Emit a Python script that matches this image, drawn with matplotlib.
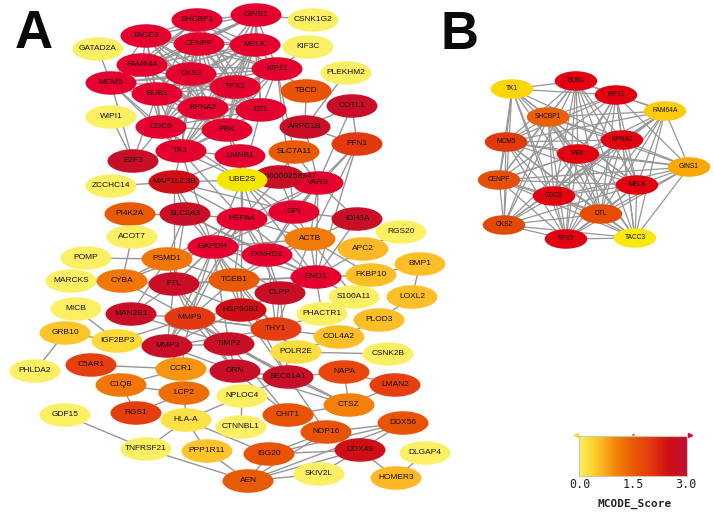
import itertools
import numpy as np
import matplotlib
matplotlib.use("Agg")
import matplotlib.pyplot as plt
from matplotlib.colors import LinearSegmentedColormap, Normalize
from matplotlib.patches import Ellipse

plt.rcParams["font.family"] = ["Liberation Sans", "DejaVu Sans"]

# network A, node centres
a_names = ["GINS1", "SHCBP1", "CSNK1G2", "TACC3", "CENPF", "MELK", "KIF3C", "GATAD2A", "FAM64A", "CKS2",
           "KIF11", "PLEKHM2", "MCM5", "TPX2", "BUB1", "TBCD", "KPNA2", "DTL", "COTL1", "WIPI1",
           "CDC6", "PBK", "ARPC1B", "PFN1", "TK1", "LMNB1", "SLC7A11", "E2F3", "MAP1LC3B", "VARS",
           "ENSG00000258947", "UBE2S", "ZCCHC14", "PI4K2A", "SLC2A3", "HSPA4", "GPI", "IDH3A", "ACOT7", "GAPDH",
           "ACTB", "RGS20", "APC2", "TXNRD1", "POMP", "PSMD1", "BMP1", "FKBP10", "ENO1", "MARCKS",
           "CYBA", "TCEB1", "FTL", "CLPP", "S100A11", "LOXL2", "MICB", "HSP90B1", "MAN2B1", "PHACTR1",
           "MMP9", "PLOD3", "THY1", "GRB10", "COL4A2", "IGF2BP3", "TIMP2", "MMP3", "POLR2E", "CSNK2B",
           "C5AR1", "CCR1", "PHLDA2", "GRN", "NAPA", "SEC61A1", "C1QB", "LMAN2", "LCP2", "NPLOC4",
           "CTSZ", "RGS1", "GDF15", "CHIT1", "HLA-A", "DDX56", "CTNNBL1", "NOP16", "TNFRSF21", "PPP1R11",
           "DDX49", "ISG20", "DLGAP4", "SKIV2L", "HOMER3", "AEN"]
a_x = [256, 197, 313, 146, 199, 255, 308, 98, 142, 191,
       277, 346, 111, 235, 157, 306, 203, 261, 352, 111,
       161, 227, 305, 357, 181, 240, 294, 133, 174, 318,
       279, 242, 111, 130, 185, 242, 294, 357, 132, 213,
       310, 401, 363, 267, 86, 167, 420, 371, 316, 71,
       122, 234, 174, 280, 354, 412, 76, 241, 131, 322,
       190, 379, 276, 65, 339, 117, 229, 167, 296, 388,
       91, 181, 35, 235, 344, 288, 121, 395, 184, 242,
       349, 136, 65, 288, 186, 403, 241, 326, 146, 207,
       360, 269, 425, 319, 396, 248]
a_y = [15, 20, 20, 36, 44, 45, 47, 49, 65, 74,
       69, 73, 83, 87, 94, 91, 108, 110, 106, 117,
       127, 130, 127, 144, 151, 156, 152, 161, 182, 183,
       177, 180, 186, 214, 214, 219, 212, 219, 237, 247,
       239, 232, 249, 255, 258, 259, 264, 275, 277, 281,
       281, 280, 284, 293, 297, 297, 309, 310, 314, 314,
       318, 320, 329, 333, 337, 341, 344, 346, 352, 354,
       365, 369, 371, 371, 372, 377, 385, 385, 393, 396,
       405, 413, 415, 415, 420, 423, 427, 432, 449, 451,
       450, 454, 453, 474, 478, 481]
a_score = [4, 4, 0, 4, 4, 4, 0, 0, 4, 4,
           4, 0, 4, 4, 4, 1.6, 4, 4, 2.8, 0,
           4, 4, 2.8, 2.0, 4, 4, 1.5, 2.8, 2.5, 4,
           2.8, -1, 0, 1.5, 2.8, 4, 4, 2.8, 0, 4,
           1.15, 0, 0.6, 4, 0, 1.2, 0.55, 0.55, 4, 0,
           1.2, 1.5, 2.8, 2.8, 0, 0.55, 0, 2.5, 2.8, 0,
           2.0, 0.55, 1.9, 0.5, 0.55, 0.3, 2.8, 2.8, 0.25, 0,
           1.9, 0.9, 0, 2.8, 1.8, 2.8, 1.2, 1.9, 1.3, 0,
           1.1, 1.9, 0, 1.6, 0.2, 1.6, 0, 1.6, 0, 0.5,
           2.5, 1.6, 0, 0, 0.6, 1.5]

# network B
b_names = ["TK1", "BUB1", "KIF11", "FAM64A", "SHCBP1", "KPNA2", "MCM5", "PBK",
           "GINS1", "CENPF", "MELK", "CDC6", "DTL", "CKS2", "TPX2", "TACC3"]
b_x = [512, 576, 616, 665, 548, 622, 506, 578, 689, 499, 637, 554, 601, 504, 566, 635]
b_y = [89, 81, 95, 111, 117, 140, 142, 154, 167, 180, 185, 196, 214, 225, 239, 238]
b_colour = ["#fdd60a", "#e0000f", "#e0000f", "#fbcb0c", "#e8600a", "#e0000f", "#e03a0a", "#e0000f",
            "#f9a808", "#e4500a", "#e0000f", "#e0000f", "#e64c05", "#e04a08", "#e0000f", "#f7e910"]
b_missing = [("TK1", "FAM64A"), ("TK1", "GINS1"), ("TK1", "TACC3"), ("BUB1", "GINS1"),
             ("CKS2", "GINS1"), ("FAM64A", "CENPF"), ("KIF11", "CKS2")]

# the rest of network A (the B nodes are almost fully linked on top of these)
a_edges = """GINS1-CSNK1G2 GATAD2A-MCM5 KIF3C-KIF11 PLEKHM2-ARPC1B TBCD-ARPC1B TBCD-KIF11 COTL1-ARPC1B COTL1-PFN1
COTL1-VARS ARPC1B-PFN1 ARPC1B-VARS WIPI1-E2F3 E2F3-CDC6 E2F3-MCM5 E2F3-BUB1 E2F3-TK1 ZCCHC14-MAP1LC3B
KIF11-SLC7A11 KIF11-GPI DTL-UBE2S TK1-LMNB1 TK1-HSPA4 TK1-GAPDH TK1-MAP1LC3B TK1-UBE2S LMNB1-MAP1LC3B
LMNB1-HSPA4 LMNB1-PBK UBE2S-CDC6 UBE2S-PBK MAP1LC3B-GAPDH MAP1LC3B-HSPA4 MAP1LC3B-GPI MAP1LC3B-SLC2A3
MAP1LC3B-FTL MAP1LC3B-UBE2S SLC2A3-HSPA4 SLC2A3-GAPDH SLC2A3-PI4K2A SLC2A3-PSMD1 SLC2A3-TXNRD1 SLC2A3-ENO1
SLC2A3-FTL UBE2S-HSPA4 UBE2S-GAPDH UBE2S-TXNRD1 UBE2S-GPI UBE2S-ENO1 UBE2S-ACTB VARS-HSPA4 VARS-GAPDH
VARS-ENO1 VARS-ACTB VARS-GPI VARS-TXNRD1 PFN1-VARS PFN1-ACTB PFN1-GPI PFN1-ENO1 ENSG00000258947-HSPA4
ENSG00000258947-GPI SLC7A11-VARS SLC7A11-ENSG00000258947 IDH3A-GPI IDH3A-ACTB IDH3A-ENO1 IDH3A-VARS
HSPA4-GPI HSPA4-GAPDH HSPA4-TXNRD1 HSPA4-ENO1 HSPA4-ACTB HSPA4-FTL HSPA4-PSMD1 HSPA4-TCEB1 HSPA4-MMP9
HSPA4-HSP90B1 HSPA4-CLPP HSPA4-MMP3 GAPDH-TXNRD1 GAPDH-ENO1 GAPDH-ACTB GAPDH-GPI GAPDH-FTL GAPDH-PSMD1
GAPDH-CYBA GAPDH-TCEB1 GAPDH-MMP9 GAPDH-HSP90B1 GAPDH-CLPP GAPDH-MMP3 GAPDH-TIMP2 GAPDH-THY1 TXNRD1-GPI
TXNRD1-ENO1 TXNRD1-ACTB TXNRD1-TCEB1 TXNRD1-CLPP TXNRD1-THY1 ACTB-ENO1 ACTB-GPI ACTB-S100A11 ACTB-THY1
ACTB-TCEB1 ACTB-FKBP10 APC2-RGS20 APC2-ENO1 ENO1-FKBP10 ENO1-PHACTR1 ENO1-TCEB1 ENO1-CLPP ENO1-FTL
ENO1-S100A11 FKBP10-BMP1 BMP1-LOXL2 LOXL2-PLOD3 PLOD3-COL4A2 COL4A2-THY1 COL4A2-POLR2E POLR2E-CSNK2B
PHACTR1-THY1 THY1-CLPP THY1-TIMP2 THY1-MMP9 THY1-HSP90B1 THY1-MMP3 THY1-POLR2E POMP-PSMD1 ACOT7-CYBA
MARCKS-CYBA CYBA-PSMD1 CYBA-FTL CYBA-MMP9 PSMD1-MAN2B1 PSMD1-FTL PSMD1-TCEB1 MAN2B1-FTL MAN2B1-MMP9
MAN2B1-TIMP2 MICB-IGF2BP3 GRB10-IGF2BP3 GRB10-PHLDA2 IGF2BP3-MMP9 IGF2BP3-MMP3 FTL-MMP9 FTL-TIMP2
FTL-HSP90B1 FTL-TCEB1 FTL-MMP3 FTL-GRN TCEB1-HSP90B1 TCEB1-CLPP TCEB1-MMP9 TCEB1-THY1 TCEB1-SEC61A1
HSP90B1-MMP9 HSP90B1-CLPP HSP90B1-SEC61A1 HSP90B1-MMP3 MMP9-MMP3 MMP9-TIMP2 MMP9-GRN MMP9-THY1 MMP9-CCR1
MMP9-SEC61A1 MMP3-TIMP2 MMP3-CCR1 MMP3-GRN TIMP2-GRN TIMP2-SEC61A1 TIMP2-CHIT1 TIMP2-CTSZ GRN-CHIT1
GRN-SEC61A1 GRN-CTSZ CLPP-SEC61A1 SEC61A1-NOP16 SEC61A1-CTSZ SEC61A1-NPLOC4 C5AR1-CCR1 C1QB-CCR1 C1QB-LCP2
C1QB-RGS1 RGS1-LCP2 LCP2-HLA_A HLA_A-NPLOC4 CTNNBL1-NPLOC4 HLA_A-TNFRSF21 HLA_A-PPP1R11 HLA_A-ISG20
GDF15-TNFRSF21 TNFRSF21-AEN PPP1R11-AEN ISG20-AEN ISG20-NOP16 ISG20-DDX56 ISG20-DDX49 AEN-DDX49 AEN-DDX56
AEN-SKIV2L AEN-NOP16 SKIV2L-DDX49 DDX49-HOMER3 HOMER3-DLGAP4 NOP16-DDX56 NOP16-DDX49 DDX49-DDX56
CHIT1-CTSZ CTSZ-NAPA CTSZ-LMAN2 NAPA-LMAN2 NAPA-SEC61A1""".split()
a_edges = [tuple(n.replace("HLA_A", "HLA-A") for n in e.split("-")) for e in a_edges]

# colour scale
score_ticks = [0, 1.5, 3]
score_labels = ["0.0", "1.5", "3.0"]
stops = [(0.0, "#fbf064"), (0.12, "#fcd530"), (0.2, "#fdb825"), (0.33, "#f58a0a"), (0.5, "#e85a03"),
         (0.65, "#e63c10"), (0.83, "#cf0f14"), (1.0, "#c40f33")]
cmap = LinearSegmentedColormap.from_list("mcode", stops)
cmap.set_over("#e4002f")
cmap.set_under("#f5e600")
norm = Normalize(0, 3)


def draw_network(ax, names, xs, ys, colours, edges, w, h, fs, lw):
    pos = dict(zip(names, zip(xs, ys)))
    for p, q in edges:
        ax.plot([pos[p][0], pos[q][0]], [pos[p][1], pos[q][1]], color="#969696", lw=lw, zorder=1,
                solid_capstyle="round")
    for n, x, y, c in zip(names, xs, ys, colours):
        z = 5 if n == "UBE2S" else 3
        ax.add_patch(Ellipse((x, y), w, h, facecolor=c, edgecolor="none", zorder=z))
        ax.text(x, y - 0.5, n, ha="center", va="center", fontsize=fs, color="#1a0e0e", zorder=z + 1)


fig = plt.figure(figsize=(7.14, 5.16), dpi=100)
ax = fig.add_axes([0, 0, 1, 1])
ax.set_xlim(0, 714)
ax.set_ylim(516, 0)
ax.axis("off")

a_colours = [cmap(norm(s)) for s in a_score]
clique = [e for e in itertools.combinations(b_names, 2) if e not in b_missing and e[::-1] not in b_missing]
draw_network(ax, a_names, a_x, a_y, a_colours, a_edges + clique, 51, 23.5, 6.0, 1.0)
draw_network(ax, b_names, b_x, b_y, b_colour, clique, 42.5, 19.5, 4.8, 0.9)

ax.text(34, 48, "A", weight="bold", fontsize=38, ha="center", va="baseline", color="#0a0a0a")
ax.text(459, 49, "B", weight="bold", fontsize=38, ha="center", va="baseline", color="#0a0a0a")

# colour bar
cax = fig.add_axes([579 / 714, 1 - 476 / 516, 108 / 714, 40 / 516])
cax.imshow(np.linspace(0, 1, 256)[None, :], aspect="auto", cmap=cmap, vmin=0, vmax=1, extent=[0, 3, 0, 1])
cax.set_xticks([])
cax.set_yticks([])
for s in cax.spines.values():
    s.set_color("#c8c8b0")
    s.set_linewidth(0.8)
ax.plot([576], [435], marker="<", ms=3, color="#f7d34a", ls="none")
ax.plot([633], [434.5], marker="v", ms=1.5, color="#e08060", ls="none")
ax.plot([690], [435], marker=">", ms=3, color="#e4002f", ls="none")
for v, t in zip(score_ticks, score_labels):
    ax.text(580 + v / 3 * 106, 485, t, family="DejaVu Sans Mono", fontsize=8.5, ha="center", va="center",
            color="#222222")
ax.text(635, 504, "MCODE_Score", family="DejaVu Sans Mono", weight="bold", fontsize=8, ha="center",
        va="center", color="#222222")

fig.savefig("out.png", dpi=100)
